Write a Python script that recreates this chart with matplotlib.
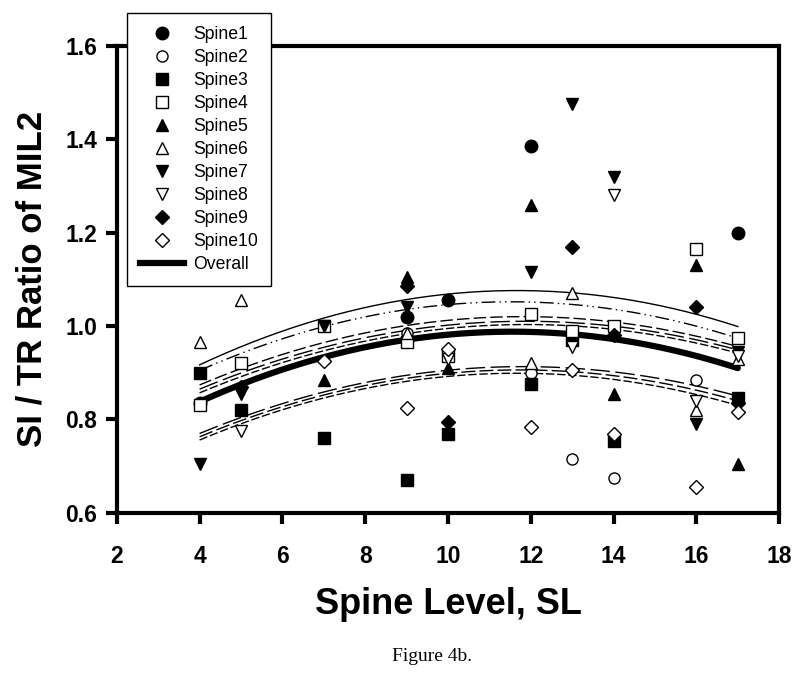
import numpy as np
import matplotlib
matplotlib.use("Agg")
import matplotlib.pyplot as plt
from matplotlib.lines import Line2D

plt.rcParams['font.family'] = ['Liberation Sans', 'DejaVu Sans']

nan = np.nan
levels = [4, 5, 7, 9, 10, 12, 13, 14, 16, 17]

spine1 = [0.835, nan, nan, 1.02, 1.055, 1.385, nan, nan, nan, 1.20]
spine2 = [nan, nan, nan, 0.985, nan, 0.90, 0.715, 0.675, 0.885, nan]
spine3 = [0.90, 0.82, 0.76, 0.67, 0.77, 0.875, 0.97, 0.755, nan, 0.845]
spine4 = [0.83, 0.92, 1.00, 0.965, 0.935, 1.025, 0.99, 1.00, 1.165, 0.975]
spine5 = [nan, nan, 0.885, 1.105, 0.91, 1.26, nan, 0.855, 1.13, 0.705]
spine6 = [0.965, 1.055, nan, 0.985, nan, 0.92, 1.07, nan, 0.82, 0.93]
spine7 = [0.705, 0.855, 1.00, 1.04, nan, 1.115, 1.475, 1.32, 0.79, 0.945]
spine8 = [nan, 0.775, nan, nan, 0.93, nan, 0.955, 1.28, 0.84, 0.935]
spine9 = [nan, 0.87, nan, 1.085, 0.795, nan, 1.17, 0.98, 1.04, 0.835]
spine10 = [nan, nan, 0.925, 0.825, 0.95, 0.785, 0.905, 0.77, 0.655, 0.815]

series_names = ["Spine1", "Spine2", "Spine3", "Spine4", "Spine5",
                "Spine6", "Spine7", "Spine8", "Spine9", "Spine10"]
series_values = [spine1, spine2, spine3, spine4, spine5,
                 spine6, spine7, spine8, spine9, spine10]

# fitted curves: values read at x = 4, 11.5, 17
fit_x = [4, 11.5, 17]
fit_top = [0.917, 1.076, 0.999]
fit_dashdot = [0.905, 1.052, 0.974]
fit_up_a = [0.874, 1.020, 0.956]
fit_up_b = [0.865, 1.010, 0.949]
fit_up_c = [0.857, 1.003, 0.942]
fit_overall = [0.838, 0.988, 0.910]
fit_low_a = [0.770, 0.913, 0.850]
fit_low_b = [0.763, 0.906, 0.840]
fit_low_c = [0.756, 0.899, 0.830]

markers = ['o', 'o', 's', 's', '^', '^', 'v', 'v', 'D', 'D']
filled = [True, False, True, False, True, False, True, False, True, False]
msizes = [9, 8, 8, 8, 9, 8, 9, 8, 7.5, 7.5]

fig = plt.figure(figsize=(8.0, 6.74), dpi=100)
ax = fig.add_axes([0.146, 0.239, 0.828, 0.693])

xs = np.linspace(4, 17, 200)
curve_styles = [
    (fit_top, '-', 1.0),
    (fit_dashdot, (0, (10, 3, 1, 3, 1, 3)), 1.0),
    (fit_up_a, (0, (9, 3)), 1.0),
    (fit_up_b, (0, (14, 4)), 1.0),
    (fit_up_c, (0, (6, 2)), 1.0),
    (fit_low_a, (0, (14, 4)), 1.0),
    (fit_low_b, (0, (10, 3)), 1.0),
    (fit_low_c, (0, (6, 2)), 1.0),
]
for vals, ls, lw in curve_styles:
    c = np.polyfit(fit_x, vals, 2)
    ax.plot(xs, np.polyval(c, xs), color='black', linestyle=ls, linewidth=lw, zorder=2)

c = np.polyfit(fit_x, fit_overall, 2)
ax.plot(xs, np.polyval(c, xs), color='black', linewidth=4.5, zorder=3,
        solid_capstyle='round')

handles = []
for name, vals, m, f, ms in zip(series_names, series_values, markers, filled, msizes):
    fc = 'black' if f else 'white'
    ax.plot(levels, vals, linestyle='none', marker=m, markersize=ms,
            markerfacecolor=fc, markeredgecolor='black', markeredgewidth=1.0,
            zorder=4)
    handles.append(Line2D([], [], linestyle='none', marker=m, markersize=ms,
                          markerfacecolor=fc, markeredgecolor='black',
                          markeredgewidth=1.0, label=name))
handles.append(Line2D([], [], color='black', linewidth=4.5, label='Overall'))

ax.set_xlim(2, 18)
ax.set_ylim(0.6, 1.6)
ax.set_xticks(np.arange(2, 19, 2))
ax.set_yticks(np.arange(0.6, 1.61, 0.2))
ax.set_yticklabels([f"{v:.1f}" for v in np.arange(0.6, 1.61, 0.2)])
for s in ax.spines.values():
    s.set_linewidth(3)
ax.tick_params(axis='both', direction='out', length=8, width=3,
               labelsize=16.5, pad=6)
for lab in ax.get_xticklabels() + ax.get_yticklabels():
    lab.set_fontweight('bold')
ax.tick_params(axis='x', pad=15)

ax.set_xlabel("Spine Level, SL", fontsize=26, fontweight='bold', labelpad=14)
ax.set_ylabel("SI / TR Ratio of MIL2", fontsize=25, fontweight='bold', labelpad=12)

leg = ax.legend(handles=handles, loc='upper left',
                bbox_to_anchor=(127 / 800, 1 - 13 / 674),
                bbox_transform=fig.transFigure,
                fontsize=12.7, frameon=True, fancybox=False, framealpha=1,
                edgecolor='black', borderpad=0.75, labelspacing=0.34,
                handlelength=2.5, handletextpad=0.5, borderaxespad=0)
leg.get_frame().set_linewidth(1.0)
leg.set_zorder(10)

fig.text(0.54, 0.014, "Figure 4b.", ha='center', va='bottom',
         fontsize=14, family=['Liberation Serif', 'DejaVu Serif'])

fig.savefig("out.png", dpi=100)
